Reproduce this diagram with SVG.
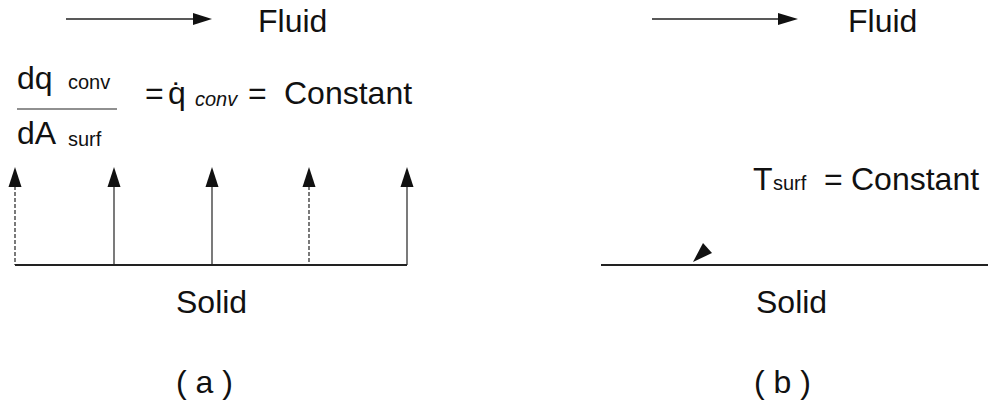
<svg xmlns="http://www.w3.org/2000/svg" width="988" height="405" viewBox="0 0 988 405">
<style>
text{font-family:"Liberation Sans",Arial,sans-serif;fill:#111;}
.big{font-size:32px;}
.sub{font-size:20px;}
.it{font-style:italic;}
.ln{stroke:#222;fill:none;}
.head{fill:#111;stroke:none;}
</style>
<rect width="988" height="405" fill="#fff"/>
<g id="connectors">
  <line class="ln" x1="66" y1="19" x2="195" y2="19" stroke-width="1.5"/>
  <polygon class="head" points="193,13 212,19 193,25"/>
  <line class="ln" x1="652" y1="19" x2="780" y2="19" stroke-width="1.5"/>
  <polygon class="head" points="778,13 798,19 778,25"/>
  <line class="ln" x1="15" y1="186" x2="15" y2="265" stroke-width="1.2" stroke-dasharray="4 2"/>
  <polygon class="head" points="15,167 8.5,187 21.5,187"/>
  <line class="ln" x1="114" y1="186" x2="114" y2="265" stroke-width="1.2"/>
  <polygon class="head" points="114,167 107.5,187 120.5,187"/>
  <line class="ln" x1="212" y1="186" x2="212" y2="265" stroke-width="1.2"/>
  <polygon class="head" points="212,167 205.5,187 218.5,187"/>
  <line class="ln" x1="309" y1="186" x2="309" y2="265" stroke-width="1.2" stroke-dasharray="4 2"/>
  <polygon class="head" points="309,167 302.5,187 315.5,187"/>
  <line class="ln" x1="407" y1="186" x2="407" y2="265" stroke-width="1.2"/>
  <polygon class="head" points="407,167 400.5,187 413.5,187"/>
  <polygon class="head" points="693,262 703,243 712,253"/>
</g>
<g id="surface-a">
  <line class="ln" x1="15" y1="265" x2="407" y2="265" stroke-width="2"/>
</g>
<g id="surface-b">
  <line class="ln" x1="601" y1="265" x2="988" y2="265" stroke-width="2"/>
</g>
<g id="fluid-a"><text class="big" x="258" y="32">Fluid</text></g>
<g id="fluid-b"><text class="big" x="848" y="32">Fluid</text></g>
<g id="flux-eq">
  <text class="big" x="17" y="89">dq</text>
  <text class="sub" x="68" y="89">conv</text>
  <line class="ln" x1="17" y1="109" x2="117" y2="109" stroke-width="1.2"/>
  <text class="big" x="17" y="144">dA</text>
  <text class="sub" x="68" y="146">surf</text>
  <text class="big" x="145" y="104">=</text>
  <text class="big" x="168" y="104">q̇</text>
  <text class="sub it" x="195" y="106">conv</text>
  <text class="big" x="248" y="104">=</text>
  <text class="big" x="284" y="104">Constant</text>
</g>
<g id="tsurf-eq">
  <text class="big" x="753" y="190">T</text>
  <text class="sub" x="773" y="190">surf</text>
  <text class="big" x="824" y="190">=</text>
  <text class="big" x="851" y="190">Constant</text>
</g>
<g id="solid-a"><text class="big" x="176" y="313">Solid</text></g>
<g id="solid-b"><text class="big" x="756" y="313">Solid</text></g>
<g id="label-a"><text class="big" x="176" y="393">( a )</text></g>
<g id="label-b"><text class="big" x="754" y="393">( b )</text></g>
</svg>
